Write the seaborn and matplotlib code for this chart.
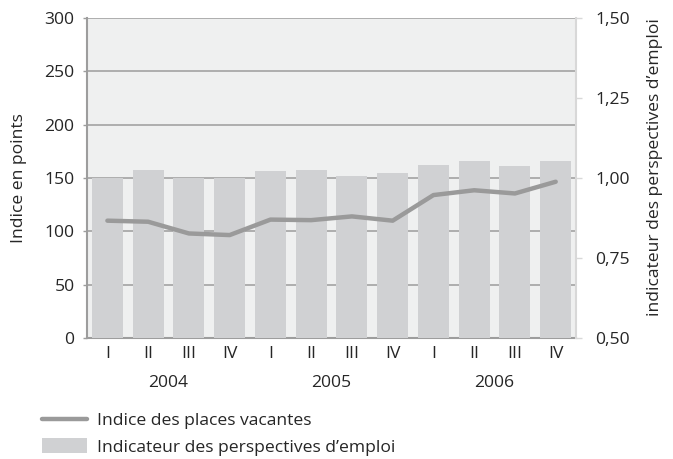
import matplotlib
matplotlib.use("Agg")
import matplotlib.pyplot as plt
import matplotlib.lines as mlines
import matplotlib.patches as mpatches
import pandas as pd
import seaborn as sns

quarters = ["I", "II", "III", "IV"] * 3
years = ["2004", "2005", "2006"]
vacancy_index = [110, 109, 98, 96.5, 111, 110.5, 114, 110, 134, 138.5, 135.5, 146.5]
outlook_indicator = [1.00, 1.025, 1.00, 1.00, 1.022, 1.025, 1.006, 1.016, 1.041, 1.053, 1.037, 1.053]

df = pd.DataFrame({"pos": range(len(quarters)), "quarter": quarters,
                   "vacancy": vacancy_index, "outlook": outlook_indicator})

sns.set_style("white")
plt.rcParams["font.family"] = ["Open Sans", "DejaVu Sans"]
plt.rcParams["font.size"] = 12.6

bg = "#eff0f0"
bar_col = "#d0d1d3"
line_col = "#9a9a9a"
grid_col = "#a3a3a3"

fig = plt.figure(figsize=(6.73, 4.59), dpi=100)
fig.subplots_adjust(left=0.1293, right=0.856, top=0.9608, bottom=0.2636)
ax = fig.add_subplot()
ax.set_facecolor(bg)
ax.set_zorder(1)

# bars on the right axis
ax2 = ax.twinx()
ax2.set_zorder(2)
sns.barplot(data=df, x="pos", y="outlook", color=bar_col, width=0.76,
            saturation=1, linewidth=0, edgecolor="none", ax=ax2, zorder=2)

# line on top, left scale
ax3 = ax.twinx()
ax3.set_zorder(3)
sns.lineplot(data=df, x="pos", y="vacancy", color=line_col, linewidth=3.2,
             solid_capstyle="round", ax=ax3)

for a in (ax, ax3):
    a.set_ylim(0, 300)
ax2.set_ylim(0.5, 1.5)
for a in (ax, ax2, ax3):
    a.set_xlim(-0.5, 11.5)

ax3.axis("off")
ax2.patch.set_visible(False)
ax3.patch.set_visible(False)

# left axis
ax.set_yticks(range(0, 301, 50))
ax.yaxis.grid(True, color=grid_col, linewidth=1.2)
ax.set_xticks(range(len(quarters)))
ax.set_xticklabels(quarters)
ax.tick_params(axis="x", length=0, pad=6)
ax.tick_params(axis="y", left=True, length=3, width=1, color="#9d9d9d", pad=6)
ax.set_ylabel("Indice en points")
ax.yaxis.set_label_coords(-0.122, 0.5)
for s in ("left", "bottom"):
    ax.spines[s].set_color("#9d9d9d")
    ax.spines[s].set_linewidth(1.5)
ax.spines["top"].set_visible(False)
ax.spines["right"].set_visible(False)

# right axis
ax2.set_yticks([0.5, 0.75, 1.0, 1.25, 1.5])
ax2.set_yticklabels(["0,50", "0,75", "1,00", "1,25", "1,50"])
ax2.set_xlabel("")
ax2.set_ylabel("indicateur des perspectives d’emploi")
ax2.yaxis.set_label_coords(1.145, 0.535)
ax2.tick_params(axis="y", right=True, length=4, width=1, color="#d8d8d8", pad=10)
ax2.tick_params(axis="x", length=0, labelbottom=False)
for s in ("left", "top", "bottom"):
    ax2.spines[s].set_visible(False)
ax2.spines["right"].set_color("#d8d8d8")
ax2.spines["right"].set_linewidth(1.5)

# years under the quarters
for i, yr in enumerate(years):
    ax.text(i * 4 + 1.5, -0.142, yr, transform=ax.get_xaxis_transform(),
            ha="center", va="center")

handles = [mlines.Line2D([], [], color=line_col, linewidth=3.2),
           mpatches.Patch(color=bar_col, linewidth=0)]
fig.legend(handles, ["Indice des places vacantes", "Indicateur des perspectives d’emploi"],
           loc="upper left", bbox_to_anchor=(0.062, 0.103), frameon=False,
           borderpad=0, borderaxespad=0, handlelength=2.6, handleheight=0.95,
           labelspacing=0.5, handletextpad=0.55)

fig.savefig("out.png", dpi=100)
